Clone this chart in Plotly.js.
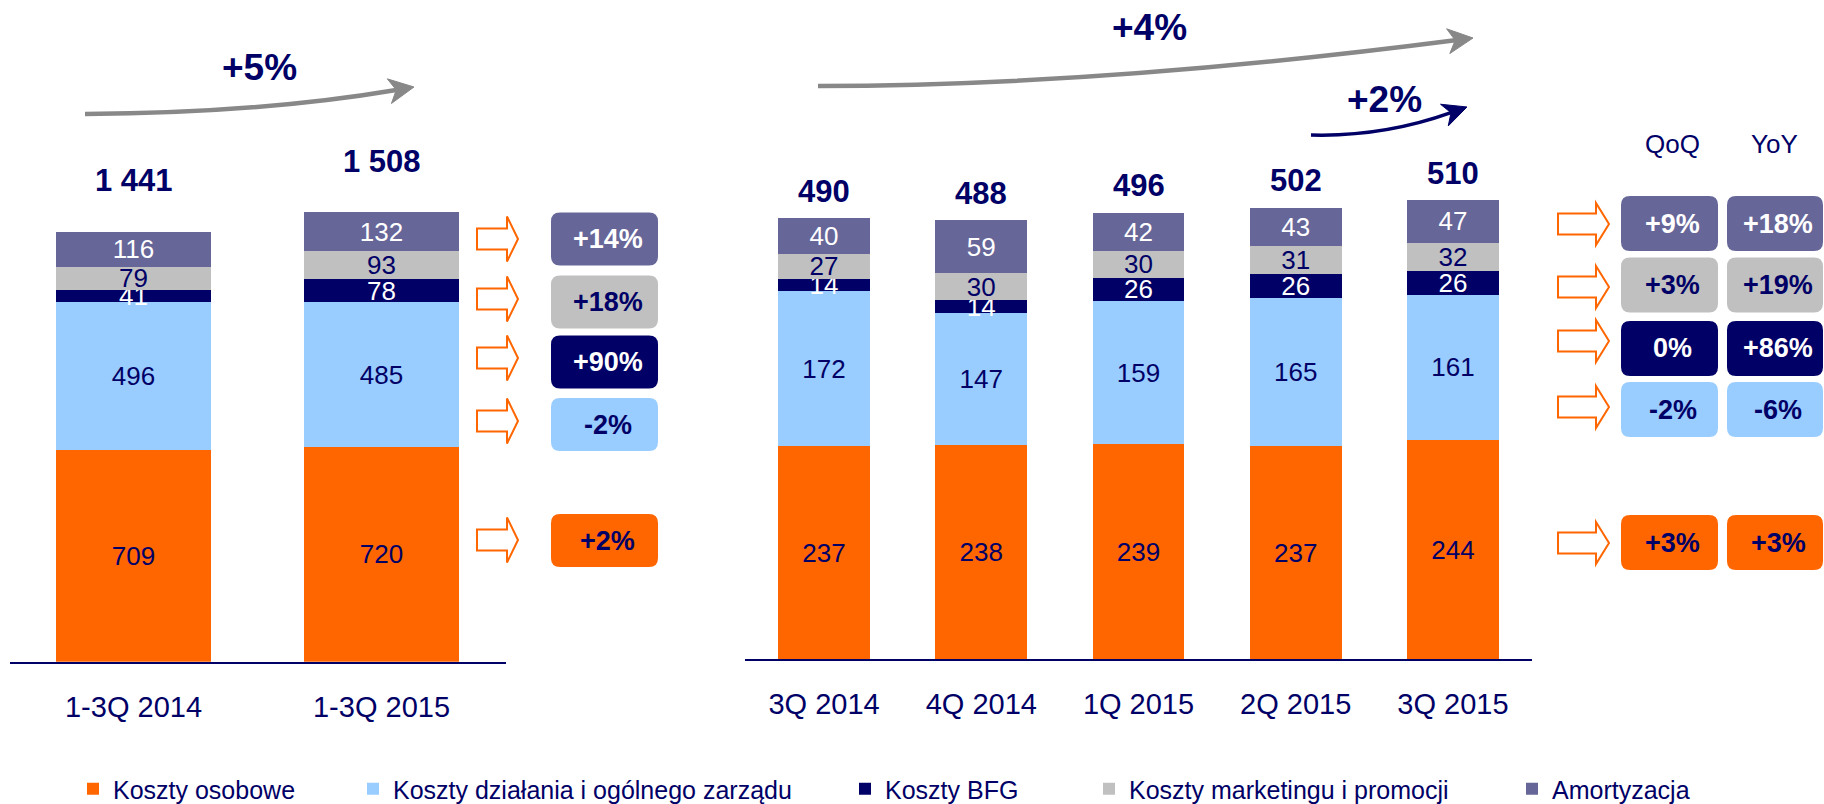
<!DOCTYPE html>
<html>
<head>
<meta charset="utf-8">
<script src="https://cdn.plot.ly/plotly-3.0.1.min.js"></script>
<style>
  html, body { margin: 0; padding: 0; background: #ffffff; }
  #chart { width: 1824px; height: 804px; }
</style>
</head>
<body>
<div id="chart"></div>
<script>
// ---------------- DATA ----------------
const categoriesYTD = ['1-3Q 2014', '1-3Q 2015'];
const categoriesQ = ['3Q 2014', '4Q 2014', '1Q 2015', '2Q 2015', '3Q 2015'];

const seriesNames = ['Koszty osobowe', 'Koszty działania i ogólnego zarządu', 'Koszty BFG', 'Koszty marketingu i promocji', 'Amortyzacja'];

// year-to-date values (PLN m)
const osoboweYTD   = [709, 720];
const dzialaniaYTD = [496, 485];
const bfgYTD       = [41, 78];
const marketingYTD = [79, 93];
const amortYTD     = [116, 132];

// quarterly values (PLN m)
const osoboweQ   = [237, 238, 239, 237, 244];
const dzialaniaQ = [172, 147, 159, 165, 161];
const bfgQ       = [14, 14, 26, 26, 26];
const marketingQ = [27, 30, 30, 31, 32];
const amortQ     = [40, 59, 42, 43, 47];

// changes per series (same order as seriesNames)
const changeYTD = ['+2%', '-2%', '+90%', '+18%', '+14%'];
const changeQoQ = ['+3%', '-2%', '0%', '+3%', '+9%'];
const changeYoY = ['+3%', '-6%', '+86%', '+19%', '+18%'];

const growthYTD = '+5%';
const growthYoYTotal = '+4%';
const growthQoQTotal = '+2%';
const tableHeaders = ['QoQ', 'YoY'];

// ---------------- STYLE / LAYOUT ----------------
const W = 1824, H = 804;
const NAVY = '#000066';
const FONT = 'Liberation Sans, Arial, Helvetica, sans-serif';
const seriesColors = ['#FF6600', '#99CCFF', '#000066', '#C0C0C0', '#666699'];
const labelColors  = ['#000066', '#000066', '#FFFFFF', '#000066', '#FFFFFF'];

const px = x => x / W;
const py = y => 1 - y / H;
const f = v => v.toFixed(5);

const GL = { x0: 9.5, x1: 505.5, base: 661.7, scale: 0.2982, barW: 0.625, totShift: 51 };
const GR = { x0: 745.4, x1: 1531.6, base: 659.3, scale: 0.900, barW: 0.585, totShift: 27 };

const ytdSeries = [osoboweYTD, dzialaniaYTD, bfgYTD, marketingYTD, amortYTD];
const qSeries = [osoboweQ, dzialaniaQ, bfgQ, marketingQ, amortQ];

const legendMarkerX = [87, 367, 859, 1103, 1526];
const legendKeys = ['legend', 'legend2', 'legend3', 'legend4', 'legend5'];

const traces = [];
seriesNames.forEach((name, i) => {
  traces.push({
    type: 'bar', name: name, x: categoriesYTD, y: ytdSeries[i],
    xaxis: 'x', yaxis: 'y', width: GL.barW,
    marker: { color: seriesColors[i], line: { width: 0 } },
    text: ytdSeries[i].map(String), textposition: 'inside', insidetextanchor: 'middle',
    textangle: 0, constraintext: 'none',
    textfont: { family: FONT, size: 26, color: labelColors[i] },
    legend: legendKeys[i], showlegend: true, hoverinfo: 'skip'
  });
  traces.push({
    type: 'bar', name: name, x: categoriesQ, y: qSeries[i],
    xaxis: 'x2', yaxis: 'y2', width: GR.barW,
    marker: { color: seriesColors[i], line: { width: 0 } },
    text: qSeries[i].map(String), textposition: 'inside', insidetextanchor: 'middle',
    textangle: 0, constraintext: 'none',
    textfont: { family: FONT, size: 26, color: labelColors[i] },
    showlegend: false, hoverinfo: 'skip'
  });
});

const fmtTotal = v => String(v).replace(/\B(?=(\d{3})+(?!\d))/g, ' ');
const totalsYTD = categoriesYTD.map((c, j) => ytdSeries.reduce((s, arr) => s + arr[j], 0));
const totalsQ = categoriesQ.map((c, j) => qSeries.reduce((s, arr) => s + arr[j], 0));

const annotations = [];
const shapes = [];

// totals above bars
categoriesYTD.forEach((c, j) => annotations.push({
  xref: 'x', yref: 'y', x: c, y: totalsYTD[j], yshift: GL.totShift, yanchor: 'middle',
  text: '<b>' + fmtTotal(totalsYTD[j]) + '</b>', showarrow: false,
  font: { family: FONT, size: 31, color: NAVY }
}));
categoriesQ.forEach((c, j) => annotations.push({
  xref: 'x2', yref: 'y2', x: c, y: totalsQ[j], yshift: GR.totShift, yanchor: 'middle',
  text: '<b>' + fmtTotal(totalsQ[j]) + '</b>', showarrow: false,
  font: { family: FONT, size: 31, color: NAVY }
}));

// helpers for shapes (pixel coords -> paper)
function P(x, y) { return f(px(x)) + ',' + f(py(y)); }
function roundRect(x0, y0, x1, y1, r) {
  return 'M' + P(x0 + r, y0) + ' L' + P(x1 - r, y0) + ' Q' + P(x1, y0) + ' ' + P(x1, y0 + r) +
    ' L' + P(x1, y1 - r) + ' Q' + P(x1, y1) + ' ' + P(x1 - r, y1) +
    ' L' + P(x0 + r, y1) + ' Q' + P(x0, y1) + ' ' + P(x0, y1 - r) +
    ' L' + P(x0, y0 + r) + ' Q' + P(x0, y0) + ' ' + P(x0 + r, y0) + ' Z';
}
function hollowArrow(x0, xh, xt, yc, bh, hh) {
  return 'M' + P(x0, yc - bh / 2) + ' L' + P(xh, yc - bh / 2) + ' L' + P(xh, yc - hh / 2) +
    ' L' + P(xt, yc) + ' L' + P(xh, yc + hh / 2) + ' L' + P(xh, yc + bh / 2) +
    ' L' + P(x0, yc + bh / 2) + ' Z';
}
function curvedArrow(p0, c, tip, len, hw, notch, color, width) {
  const dx = tip[0] - c[0], dy = tip[1] - c[1];
  const d = Math.hypot(dx, dy), ux = dx / d, uy = dy / d, nx = -uy, ny = ux;
  const back = [tip[0] - ux * len, tip[1] - uy * len];
  const a = [back[0] + nx * hw, back[1] + ny * hw];
  const b = [back[0] - nx * hw, back[1] - ny * hw];
  const n = [tip[0] - ux * (len - notch), tip[1] - uy * (len - notch)];
  shapes.push({
    type: 'path', xref: 'paper', yref: 'paper',
    path: 'M' + P(p0[0], p0[1]) + ' Q' + P(c[0], c[1]) + ' ' + P(n[0], n[1]),
    line: { color: color, width: width }, fillcolor: 'rgba(0,0,0,0)'
  });
  shapes.push({
    type: 'path', xref: 'paper', yref: 'paper',
    path: 'M' + P(tip[0], tip[1]) + ' L' + P(a[0], a[1]) + ' L' + P(n[0], n[1]) + ' L' + P(b[0], b[1]) + ' Z',
    line: { color: color, width: 1 }, fillcolor: color
  });
}
function box(x0, x1, yc, h, i, txt, dx) {
  shapes.push({
    type: 'path', xref: 'paper', yref: 'paper',
    path: roundRect(x0, yc - h / 2, x1, yc + h / 2, 9),
    line: { width: 0 }, fillcolor: seriesColors[i]
  });
  annotations.push({
    xref: 'paper', yref: 'paper', x: px((x0 + x1) / 2 + dx), y: py(yc),
    xanchor: 'center', yanchor: 'middle', showarrow: false,
    text: '<b>' + txt + '</b>', font: { family: FONT, size: 27, color: labelColors[i] }
  });
}

// left change boxes
const leftBoxY = [540.5, 424.5, 362, 302, 239];
const leftArrowY = [540, 421, 358, 299, 239];
seriesNames.forEach((n, i) => {
  shapes.push({ type: 'path', xref: 'paper', yref: 'paper',
    path: hollowArrow(477, 507, 518, leftArrowY[i], 21, 45),
    line: { color: '#FF6600', width: 2 }, fillcolor: '#FFFFFF' });
  box(551, 658, leftBoxY[i], 53, i, changeYTD[i], 3);
});

// right QoQ / YoY boxes
const rightBoxY = [542.5, 409.5, 348.5, 285, 223.5];
const rightArrowY = [543, 407, 341, 287, 224];
seriesNames.forEach((n, i) => {
  shapes.push({ type: 'path', xref: 'paper', yref: 'paper',
    path: hollowArrow(1558, 1596, 1609, rightArrowY[i], 21, 42),
    line: { color: '#FF6600', width: 2 }, fillcolor: '#FFFFFF' });
  box(1621, 1718, rightBoxY[i], 55, i, changeQoQ[i], 3);
  box(1727, 1823, rightBoxY[i], 55, i, changeYoY[i], 3);
});
annotations.push({ xref: 'paper', yref: 'paper', x: px(1672), y: py(144), xanchor: 'center', yanchor: 'middle',
  showarrow: false, text: tableHeaders[0], font: { family: FONT, size: 26, color: NAVY } });
annotations.push({ xref: 'paper', yref: 'paper', x: px(1774), y: py(144), xanchor: 'center', yanchor: 'middle',
  showarrow: false, text: tableHeaders[1], font: { family: FONT, size: 26, color: NAVY } });

// growth arrows
curvedArrow([85, 114], [260, 113], [414, 87], 25, 12.5, 7, '#888888', 4.5);
curvedArrow([818, 86], [1100, 86], [1473, 38], 25, 12.5, 7, '#888888', 4.5);
curvedArrow([1311, 135], [1383, 137], [1467, 107], 24, 11.5, 7, NAVY, 3.5);
[[growthYTD, 259, 67], [growthYoYTotal, 1149, 27], [growthQoQTotal, 1384.5, 99.5]].forEach(g => {
  annotations.push({ xref: 'paper', yref: 'paper', x: px(g[1]), y: py(g[2]), xanchor: 'center', yanchor: 'middle',
    showarrow: false, text: '<b>' + g[0] + '</b>', font: { family: FONT, size: 37, color: NAVY } });
});

const axisX = (dom) => ({
  domain: dom, type: 'category', showgrid: false, zeroline: false,
  showline: true, linecolor: NAVY, linewidth: 2, ticks: '', ticklabelstandoff: 18,
  tickfont: { family: FONT, size: 29, color: NAVY }, fixedrange: true, automargin: false
});
const axisY = (g) => ({
  domain: [1 - g.base / H, 1], range: [0, g.base / g.scale], showgrid: false, zeroline: false,
  showline: false, showticklabels: false, ticks: '', fixedrange: true, automargin: false
});

const layout = {
  width: W, height: H, margin: { l: 0, r: 0, t: 0, b: 0, pad: 0, autoexpand: false },
  paper_bgcolor: '#FFFFFF', plot_bgcolor: 'rgba(0,0,0,0)',
  barmode: 'stack', font: { family: FONT, color: NAVY },
  uniformtext: { mode: 'show', minsize: 26 },
  xaxis: axisX([px(GL.x0), px(GL.x1)]),
  yaxis: Object.assign(axisY(GL), { anchor: 'x' }),
  xaxis2: Object.assign(axisX([px(GR.x0), px(GR.x1)]), { anchor: 'y2' }),
  yaxis2: Object.assign(axisY(GR), { anchor: 'x2' }),
  annotations: annotations, shapes: shapes, hovermode: false
};
legendKeys.forEach((k, i) => {
  layout[k] = {
    orientation: 'h', x: px(legendMarkerX[i] - 14), xanchor: 'left', y: -8 / H, yanchor: 'bottom',
    font: { family: FONT, size: 25, color: NAVY }, bgcolor: 'rgba(0,0,0,0)', borderwidth: 0,
    itemclick: false, itemdoubleclick: false
  };
});

Plotly.newPlot('chart', traces, layout, { displayModeBar: false, staticPlot: true });
</script>
</body>
</html>
